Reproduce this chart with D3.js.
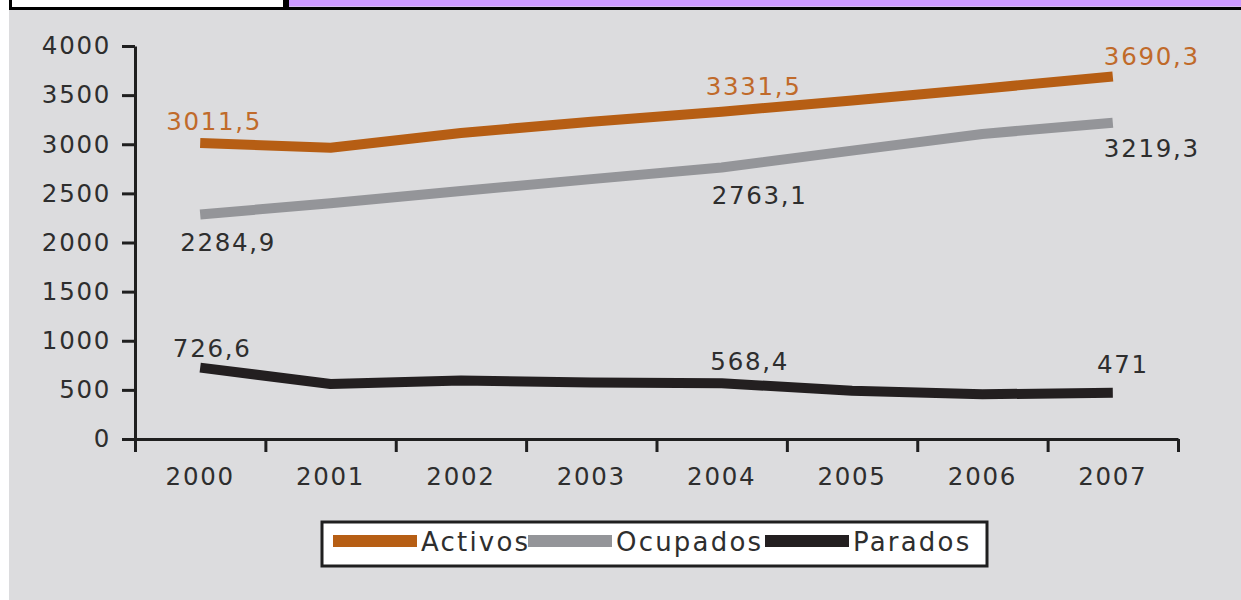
<!DOCTYPE html>
<html>
<head>
<meta charset="utf-8">
<script src="https://cdn.jsdelivr.net/npm/d3@7"></script>
<style>
  html, body { margin: 0; padding: 0; background: #ffffff; }
  svg { display: block; }
  text { font-family: "DejaVu Sans", sans-serif; }
</style>
</head>
<body>
<svg id="chart" width="1241" height="600"></svg>
<script>
// ---------- data ----------
const years = ["2000", "2001", "2002", "2003", "2004", "2005", "2006", "2007"];
const activos  = [3011.5, 2965, 3115, 3230, 3331.5, 3445, 3565, 3690.3];
const ocupados = [2284.9, 2400, 2525, 2645, 2763.1, 2935, 3105, 3219.3];
const parados  = [726.6, 560, 595, 575, 568.4, 490, 455, 471];
const seriesNames = ["Activos", "Ocupados", "Parados"];
const yTicks = [0, 500, 1000, 1500, 2000, 2500, 3000, 3500, 4000];
const labeledIdx = [0, 4, 7];

// ---------- styling / layout ----------
const colors = { Activos: "#b65e14", Ocupados: "#949599", Parados: "#231f20" };
const labelColors = { Activos: "#c06a2a", Ocupados: "#2e2e2e", Parados: "#2e2e2e" };
// label offsets (dx, dy) relative to each labelled point
const labelOffsets = {
  Activos:  [[14, -13], [32, -17], [39, -11]],
  Ocupados: [[28, 36], [38, 36], [39, 34]],
  Parados:  [[12, -11], [28, -13], [10, -20]]
};
const plot = { left: 135, right: 1178, top: 46, bottom: 439 };

const svg = d3.select("#chart");

// background & header
svg.append("rect").attr("x", 9).attr("y", 0).attr("width", 1232).attr("height", 600).attr("fill", "#dcdcde");
svg.append("rect").attr("x", 12).attr("y", 0).attr("width", 271).attr("height", 7).attr("fill", "#ffffff");
svg.append("rect").attr("x", 289).attr("y", 0).attr("width", 952).attr("height", 6.5).attr("fill", "#cc99ff");
svg.append("rect").attr("x", 9).attr("y", 0).attr("width", 3).attr("height", 10).attr("fill", "#000");
svg.append("rect").attr("x", 283).attr("y", 0).attr("width", 6).attr("height", 8).attr("fill", "#000");
svg.append("rect").attr("x", 9).attr("y", 7).attr("width", 1232).attr("height", 3).attr("fill", "#000");

// scales
const y = d3.scaleLinear().domain([0, 4000]).range([plot.bottom, plot.top]);
const xb = d3.scaleBand().domain(years).range([plot.left, plot.right]);
const xc = d => xb(d) + xb.bandwidth() / 2;
const xLin = d3.scaleLinear().domain([0, years.length]).range([plot.left, plot.right]);

// y axis
const yAxis = svg.append("g")
  .attr("transform", `translate(${plot.left},0)`)
  .call(d3.axisLeft(y).tickValues(yTicks).tickFormat(d3.format("d")).tickSize(13).tickSizeOuter(0).tickPadding(11));
yAxis.select(".domain").attr("stroke", "#1f1f1f").attr("stroke-width", 3);
yAxis.selectAll(".tick line").attr("stroke", "#1f1f1f").attr("stroke-width", 3);
yAxis.selectAll(".tick text")
  .attr("fill", "#2e2e2e").attr("font-size", 24.5).style("letter-spacing", "1.7px")
  .attr("font-family", "DejaVu Sans");

// x axis ticks at band boundaries
const xAxis = svg.append("g")
  .attr("transform", `translate(0,${plot.bottom})`)
  .call(d3.axisBottom(xLin).tickValues(d3.range(0, years.length + 1)).tickSize(13).tickSizeOuter(0).tickFormat(""));
xAxis.select(".domain").attr("stroke", "#1f1f1f").attr("stroke-width", 3);
xAxis.selectAll(".tick line").attr("stroke", "#1f1f1f").attr("stroke-width", 3);

// x labels at band centers
const xLab = svg.append("g")
  .attr("transform", `translate(0,${plot.bottom})`)
  .call(d3.axisBottom(xb).tickSize(0).tickPadding(29));
xLab.select(".domain").remove();
xLab.selectAll(".tick text")
  .attr("fill", "#2e2e2e").attr("font-size", 24.5).style("letter-spacing", "1.7px")
  .attr("font-family", "DejaVu Sans");

// lines
const seriesData = { Activos: activos, Ocupados: ocupados, Parados: parados };
const line = d3.line().x((d, i) => xc(years[i])).y(d => y(d));
seriesNames.forEach(name => {
  svg.append("path")
    .datum(seriesData[name])
    .attr("fill", "none")
    .attr("stroke", colors[name])
    .attr("stroke-width", 10)
    .attr("stroke-linejoin", "round")
    .attr("stroke-linecap", "butt")
    .attr("d", line);
});

// value labels
const fmt = v => String(v).replace(".", ",");
seriesNames.forEach(name => {
  labeledIdx.forEach((idx, k) => {
    const v = seriesData[name][idx];
    const [dx, dy] = labelOffsets[name][k];
    svg.append("text")
      .attr("x", xc(years[idx]) + dx)
      .attr("y", y(v) + dy)
      .attr("text-anchor", "middle")
      .attr("font-size", 24.5)
      .style("letter-spacing", "1.7px")
      .attr("fill", labelColors[name])
      .text(fmt(v));
  });
});

// legend
const lg = svg.append("g");
lg.append("rect").attr("x", 322).attr("y", 522).attr("width", 665).attr("height", 44)
  .attr("fill", "#ffffff").attr("stroke", "#1f1f1f").attr("stroke-width", 3);
const legendStarts = [333, 528, 765];
seriesNames.forEach((name, i) => {
  const x0 = legendStarts[i];
  lg.append("rect").attr("x", x0).attr("y", 535).attr("width", 84).attr("height", 12).attr("fill", colors[name]);
  lg.append("text").attr("x", x0 + 88).attr("y", 551)
    .attr("font-size", 26).style("letter-spacing", "2.2px")
    .attr("fill", "#2e2e2e").text(name);
});
</script>
</body>
</html>
